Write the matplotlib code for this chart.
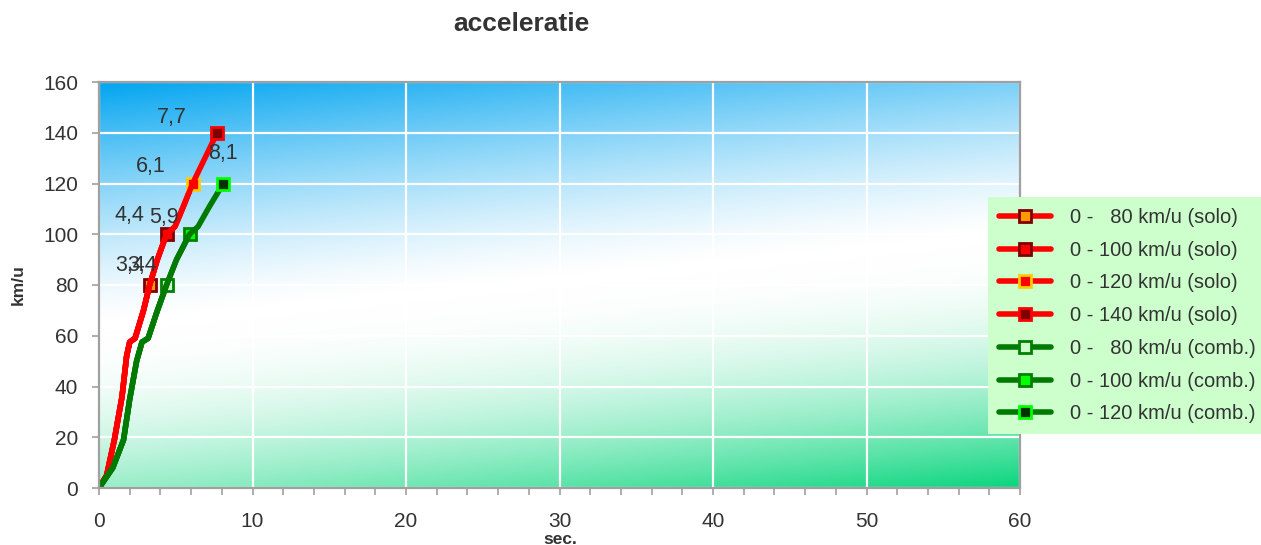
import numpy as np
import matplotlib
matplotlib.use("Agg")
import matplotlib.pyplot as plt
from matplotlib.ticker import MultipleLocator

plt.rcParams['font.family'] = ['Liberation Sans', 'DejaVu Sans']

# solo curve (sec, km/u)
solo_t = [0, 0.5, 1.0, 1.5, 1.8, 2.0, 2.35, 2.9, 3.3, 3.8, 4.4, 4.95, 5.5, 6.1, 6.9, 7.7]
solo_v = [0, 5, 19, 36, 52, 57.5, 59, 70, 80, 90, 100, 103, 111, 120, 130, 140]
# combination curve
comb_t = [0, 0.9, 1.6, 2.0, 2.45, 2.8, 3.2, 3.75, 4.4, 5.05, 5.9, 6.45, 7.2, 8.1]
comb_v = [0, 8, 19, 35, 50, 57.5, 59, 69, 80, 90, 100, 103, 111, 120]

solo_targets = [80, 100, 120, 140]
solo_labels = ["3,4", "4,4", "6,1", "7,7"]
comb_targets = [80, 100, 120]
comb_labels = ["3,4", "5,9", "8,1"]

# marker face / edge colors per series
solo_marker = [("#FF9900", "#800000"), ("#FF0000", "#800000"),
               ("#FF0000", "#FFCC00"), ("#800000", "#FF0000")]
comb_marker = [("#CCFFCC", "#008000"), ("#00FF00", "#008000"),
               ("#003300", "#00FF00")]
# label offsets in pixels from the marker
solo_off = [(-20, 20), (-37, 19), (-42, 17), (-45, 15)]
comb_off = [(-24, 20), (-26, 17), (0, 30)]

fig = plt.figure(figsize=(12.61, 5.45), dpi=100)
ax = fig.add_axes([99/1261, 1-488/545, 921/1261, 406/545])

# background gradient: blue top-left, white band, green bottom-right
W, H = 921, 406
X, Y = np.meshgrid(np.arange(W), np.arange(H)[::-1])
d = (Y - 160 - 0.10 * X) / 1.005
blue = np.array([0, 164, 240]) / 255.
green = np.array([0, 212, 120]) / 255.
tb = np.clip((d - 5) / 240., 0, 1) ** 1.35
tg = np.clip((-d - 5) / 250., 0, 1) ** 1.9
img = np.ones((H, W, 3))
img = img * (1 - tb[..., None]) + blue * tb[..., None]
img = img * (1 - tg[..., None]) + green * tg[..., None]
ax.imshow(img, extent=[0, 60, 0, 160], aspect='auto', zorder=0, origin='upper')

ax.set_xlim(0, 60)
ax.set_ylim(0, 160)
ax.xaxis.set_major_locator(MultipleLocator(10))
ax.xaxis.set_minor_locator(MultipleLocator(2))
ax.yaxis.set_major_locator(MultipleLocator(20))
ax.grid(True, which='major', color='white', lw=1.6, zorder=1)
ax.set_axisbelow(False)
for s in ax.spines.values():
    s.set_color('#A0A0A0')
    s.set_linewidth(1.6)
    s.set_zorder(5)
ax.tick_params(axis='both', colors='#A0A0A0', labelcolor='#333333', labelsize=15, width=1.2)
ax.tick_params(axis='y', length=5, pad=10)
ax.tick_params(axis='x', which='major', length=5, pad=12)
ax.tick_params(axis='x', which='minor', length=5, width=1.2, colors='#A0A0A0')

handles = []
for i in range(len(solo_targets)):
    n = solo_v.index(solo_targets[i]) + 1
    fc, ec = solo_marker[i]
    h, = ax.plot(solo_t[:n], solo_v[:n], color='#FF0000', lw=4, solid_joinstyle='round',
                 solid_capstyle='round', marker='s', markevery=[-1], ms=8,
                 mfc=fc, mec=ec, mew=2, zorder=3,
                 label="0 - %s km/u (solo)" % ("  %d" % solo_targets[i] if solo_targets[i] < 100 else solo_targets[i]))
    handles.append(h)
for i in range(len(comb_targets)):
    n = comb_v.index(comb_targets[i]) + 1
    fc, ec = comb_marker[i]
    h, = ax.plot(comb_t[:n], comb_v[:n], color='#007A00', lw=4, solid_joinstyle='round',
                 solid_capstyle='round', marker='s', markevery=[-1], ms=8,
                 mfc=fc, mec=ec, mew=2, zorder=3,
                 label="0 - %s km/u (comb.)" % ("  %d" % comb_targets[i] if comb_targets[i] < 100 else comb_targets[i]))
    handles.append(h)

# data labels
for i in range(len(solo_targets)):
    x = solo_t[solo_v.index(solo_targets[i])]
    ax.annotate(solo_labels[i], (x, solo_targets[i]), xytext=solo_off[i],
                textcoords='offset pixels', ha='center', va='center',
                fontsize=15.5, color='#333333', zorder=6)
for i in range(len(comb_targets)):
    x = comb_t[comb_v.index(comb_targets[i])]
    ax.annotate(comb_labels[i], (x, comb_targets[i]), xytext=comb_off[i],
                textcoords='offset pixels', ha='center', va='center',
                fontsize=15.5, color='#333333', zorder=6)

leg = fig.legend(handles=handles, loc='upper left', bbox_to_anchor=(988/1261, 1-197/545),
                 fontsize=14.5, frameon=True, fancybox=False, facecolor='#CCFFCC',
                 edgecolor='none', framealpha=1, numpoints=1, handlelength=2.6,
                 labelspacing=0.68, borderpad=0.55, handletextpad=0.9, borderaxespad=0)
for t in leg.get_texts():
    t.set_color('#333333')

fig.text(521/1261, 1-24/545, "acceleratie", ha='center', va='center',
         fontsize=19, fontweight='bold', color='#333333')
fig.text(18/1261, 1-285/545, "km/u", ha='center', va='center', rotation=90,
         fontsize=12.5, fontweight='bold', color='#333333')
fig.text(560/1261, 1-539/545, "sec.", ha='center', va='center',
         fontsize=12.5, fontweight='bold', color='#333333')

fig.savefig("out.png", dpi=100)
